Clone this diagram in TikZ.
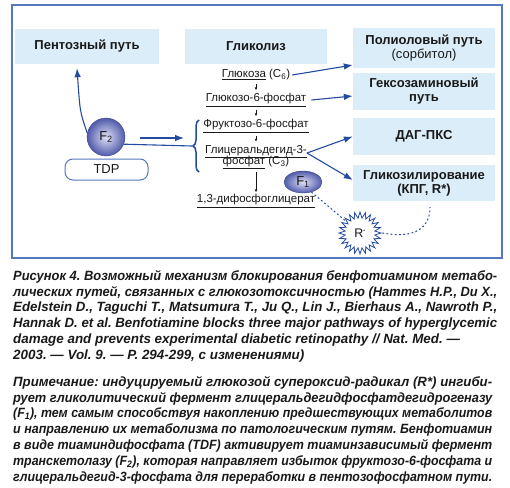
\documentclass[tikz,border=0pt]{standalone}
\usepackage{fontspec}
\usepackage{graphicx}
\setmainfont{Liberation Sans}
\usetikzlibrary{arrows.meta,shapes.symbols,shapes.geometric,decorations.pathreplacing,calc}
\definecolor{frameblue}{RGB}{85,120,190}
\definecolor{boxfill}{RGB}{218,237,248}
\definecolor{arrblue}{RGB}{35,75,160}
\definecolor{ballblue}{RGB}{95,105,185}
\definecolor{ballin}{RGB}{222,225,245}
\definecolor{ballout}{RGB}{80,90,170}
\definecolor{txt}{RGB}{25,25,25}
\newsavebox\mylinebox
\newcommand{\fitline}[2]{\sbox\mylinebox{#2}\ifdim\wd\mylinebox>#1\relax\resizebox{#1}{\height}{\usebox\mylinebox}\else\makebox[#1][s]{#2}\fi}
\newcommand{\capline}[1]{\fitline{484pt}{#1}}
\newcommand{\noteline}[1]{\fitline{479pt}{#1}}
\frenchspacing
\begin{document}
\begin{tikzpicture}[x=1pt,y=-1pt,
  pbox/.style={fill=boxfill, inner sep=0pt, align=center, text=txt,
    font=\fontsize{13}{15}\selectfont\bfseries},
  chem/.style={font=\fontsize{11.5}{13}\selectfont, inner sep=1pt, text=txt, align=center},
  blarrow/.style={draw=arrblue, line width=1.1pt, -{Latex[length=9pt,width=6.5pt]}},
  smallarrow/.style={draw=txt, line width=0.6pt, -{Latex[length=3pt,width=2.6pt]}},
  dotline/.style={draw=arrblue, line width=1pt, dash pattern=on 1.8pt off 2.4pt},
  enz/.style={draw=ballout!80!black, line width=0.4pt, shading=radial,
    inner color=ballin, outer color=ballout,
    inner sep=0pt, text=txt, font=\fontsize{13}{15}\selectfont},
  captext/.style={anchor=north west, inner sep=0pt, align=left, text=txt,
    font=\fontsize{13.4}{15.8}\selectfont\bfseries\itshape}
]
\useasboundingbox (0,0) rectangle (510,487);
\draw[frameblue, line width=1.2pt] (12,5) rectangle (502,258);

% boxes
\node[pbox, minimum width=144pt, minimum height=35pt] (pent) at (87,46.5) {Пентозный путь};
\node[pbox, minimum width=142pt, minimum height=35pt] (glyc) at (256,46.5) {Гликолиз};
\node[pbox, minimum width=142pt, minimum height=40pt] (poly) at (424,48) {Полиоловый путь\\[-1pt]{\mdseries (сорбитол)}};
\node[pbox, minimum width=142pt, minimum height=37pt] (hex) at (424,91.5) {Гексозаминовый\\[-1pt]путь};
\node[pbox, minimum width=142pt, minimum height=37pt] (dag) at (424,136.5) {ДАГ-ПКС};
\node[pbox, minimum width=142pt, minimum height=36pt] (glyk) at (424,183) {Гликозилирование\\[-1pt](КПГ, R*)};

% glycolysis chain
\node[chem] (glu) at (256,75) {\underline{Глюкоза} (C\textsubscript{6})};
\node[chem] (g6p) at (256,100) {\underline{Глюкозо-6-фосфат}};
\node[chem] (f6p) at (256,126) {\underline{Фруктозо-6-фосфат}};
\node[chem] (gap) at (256,157) {\underline{Глицеральдегид-3-}\\[-1.5pt]\underline{фосфат} (C\textsubscript{3})};
\node[chem] (bpg) at (256,201) {\underline{1,3-дифосфоглицерат}};
\draw[smallarrow, shorten <=2pt, shorten >=2pt] (glu) -- (g6p);
\draw[smallarrow, shorten <=2pt, shorten >=2pt] (g6p) -- (f6p);
\draw[smallarrow, shorten <=2pt, shorten >=2pt] (f6p) -- (gap);
\draw[smallarrow, shorten <=2pt, shorten >=1pt] (gap) -- (bpg);

% enzymes
\node[enz, circle, minimum size=38pt] (F2) at (106,137) {F\textsubscript{2}};
\node[draw=frameblue, line width=1pt, rounded corners=8pt, minimum width=83pt, minimum height=21pt,
  inner sep=0pt, text=txt, font=\fontsize{13}{15}\selectfont] (tdp) at (106.5,169.5) {TDP};
\node[enz, ellipse, minimum width=38pt, minimum height=22pt] (F1) at (303,182) {F\textsubscript{1}};
\node[starburst, starburst points=24, starburst point height=6pt, random starburst=0,
  draw=arrblue, line width=0.8pt, fill=white, minimum width=42pt, minimum height=42pt,
  inner sep=0pt, text=txt, font=\fontsize{12.5}{14}\selectfont] (rs) at (360,233) {R\textsuperscript{\tiny•}};

% brace and F2 connections
\draw[arrblue, line width=1.5pt, decorate, decoration={brace, amplitude=6pt}] (199,172) -- (199,120);
\coordinate (btip) at (192,146);
\draw[arrblue, line width=1.1pt] (F2.-22) -- (btip);
\coordinate (a1) at (140,138);
\coordinate (a2) at (184,138);
\draw[blarrow] (a1) -- (a2);
\draw[blarrow] (F2.168) .. controls (80,112) .. ([xshift=-10pt,yshift=-4pt]pent.south);

% arrows to pathways
\draw[blarrow] ([xshift=1pt]glu.east) -- ([yshift=-17pt]poly.west);
\draw[blarrow] ([xshift=4pt]g6p.east) -- ([yshift=-4.5pt]hex.west);
\coordinate (gapout) at ([xshift=-1pt,yshift=4pt]gap.east);
\draw[blarrow] (gapout) -- (dag.west);
\draw[blarrow] (gapout) -- ([yshift=3pt]glyk.west);

% radical connections
\draw[dotline] (F1.-50) -- (rs.140);
\draw[dotline] (rs.east) .. controls (415,239) and (430,228) .. ([xshift=6pt,yshift=-6pt]glyk.south);

% captions
\node[captext] (cap) at (13,270) {%
\capline{Рисунок 4. Возможный механизм блокирования бенфотиамином метабо-}\\
\capline{лических путей, связанных с глюкозотоксичностью (Hammes H.P., Du X.,}\\
\capline{Edelstein D., Taguchi T., Matsumura T., Ju Q., Lin J., Bierhaus A., Nawroth P.,}\\
\capline{Hannak D. et al. Benfotiamine blocks three major pathways of hyperglycemic}\\
damage and prevents experimental diabetic retinopathy // Nat. Med. —\\
2003. — Vol. 9. — P. 294-299, с изменениями)};
\node[captext] (note) at (13,376) {%
\noteline{Примечание: индуцируемый глюкозой супероксид-радикал (R*) ингиби-}\\
\noteline{рует гликолитический фермент глицеральдегидфосфатдегидрогеназу}\\
\noteline{(F\textsubscript{1}), тем самым способствуя накоплению предшествующих метаболитов}\\
\noteline{и направлению их метаболизма по патологическим путям. Бенфотиамин}\\
\noteline{в виде тиаминдифосфата (TDF) активирует тиаминзависимый фермент}\\
\noteline{транскетолазу (F\textsubscript{2}), которая направляет избыток фруктозо-6-фосфата и}\\
\noteline{глицеральдегид-3-фосфата для переработки в пентозофосфатном пути.}};
\end{tikzpicture}
\end{document}
